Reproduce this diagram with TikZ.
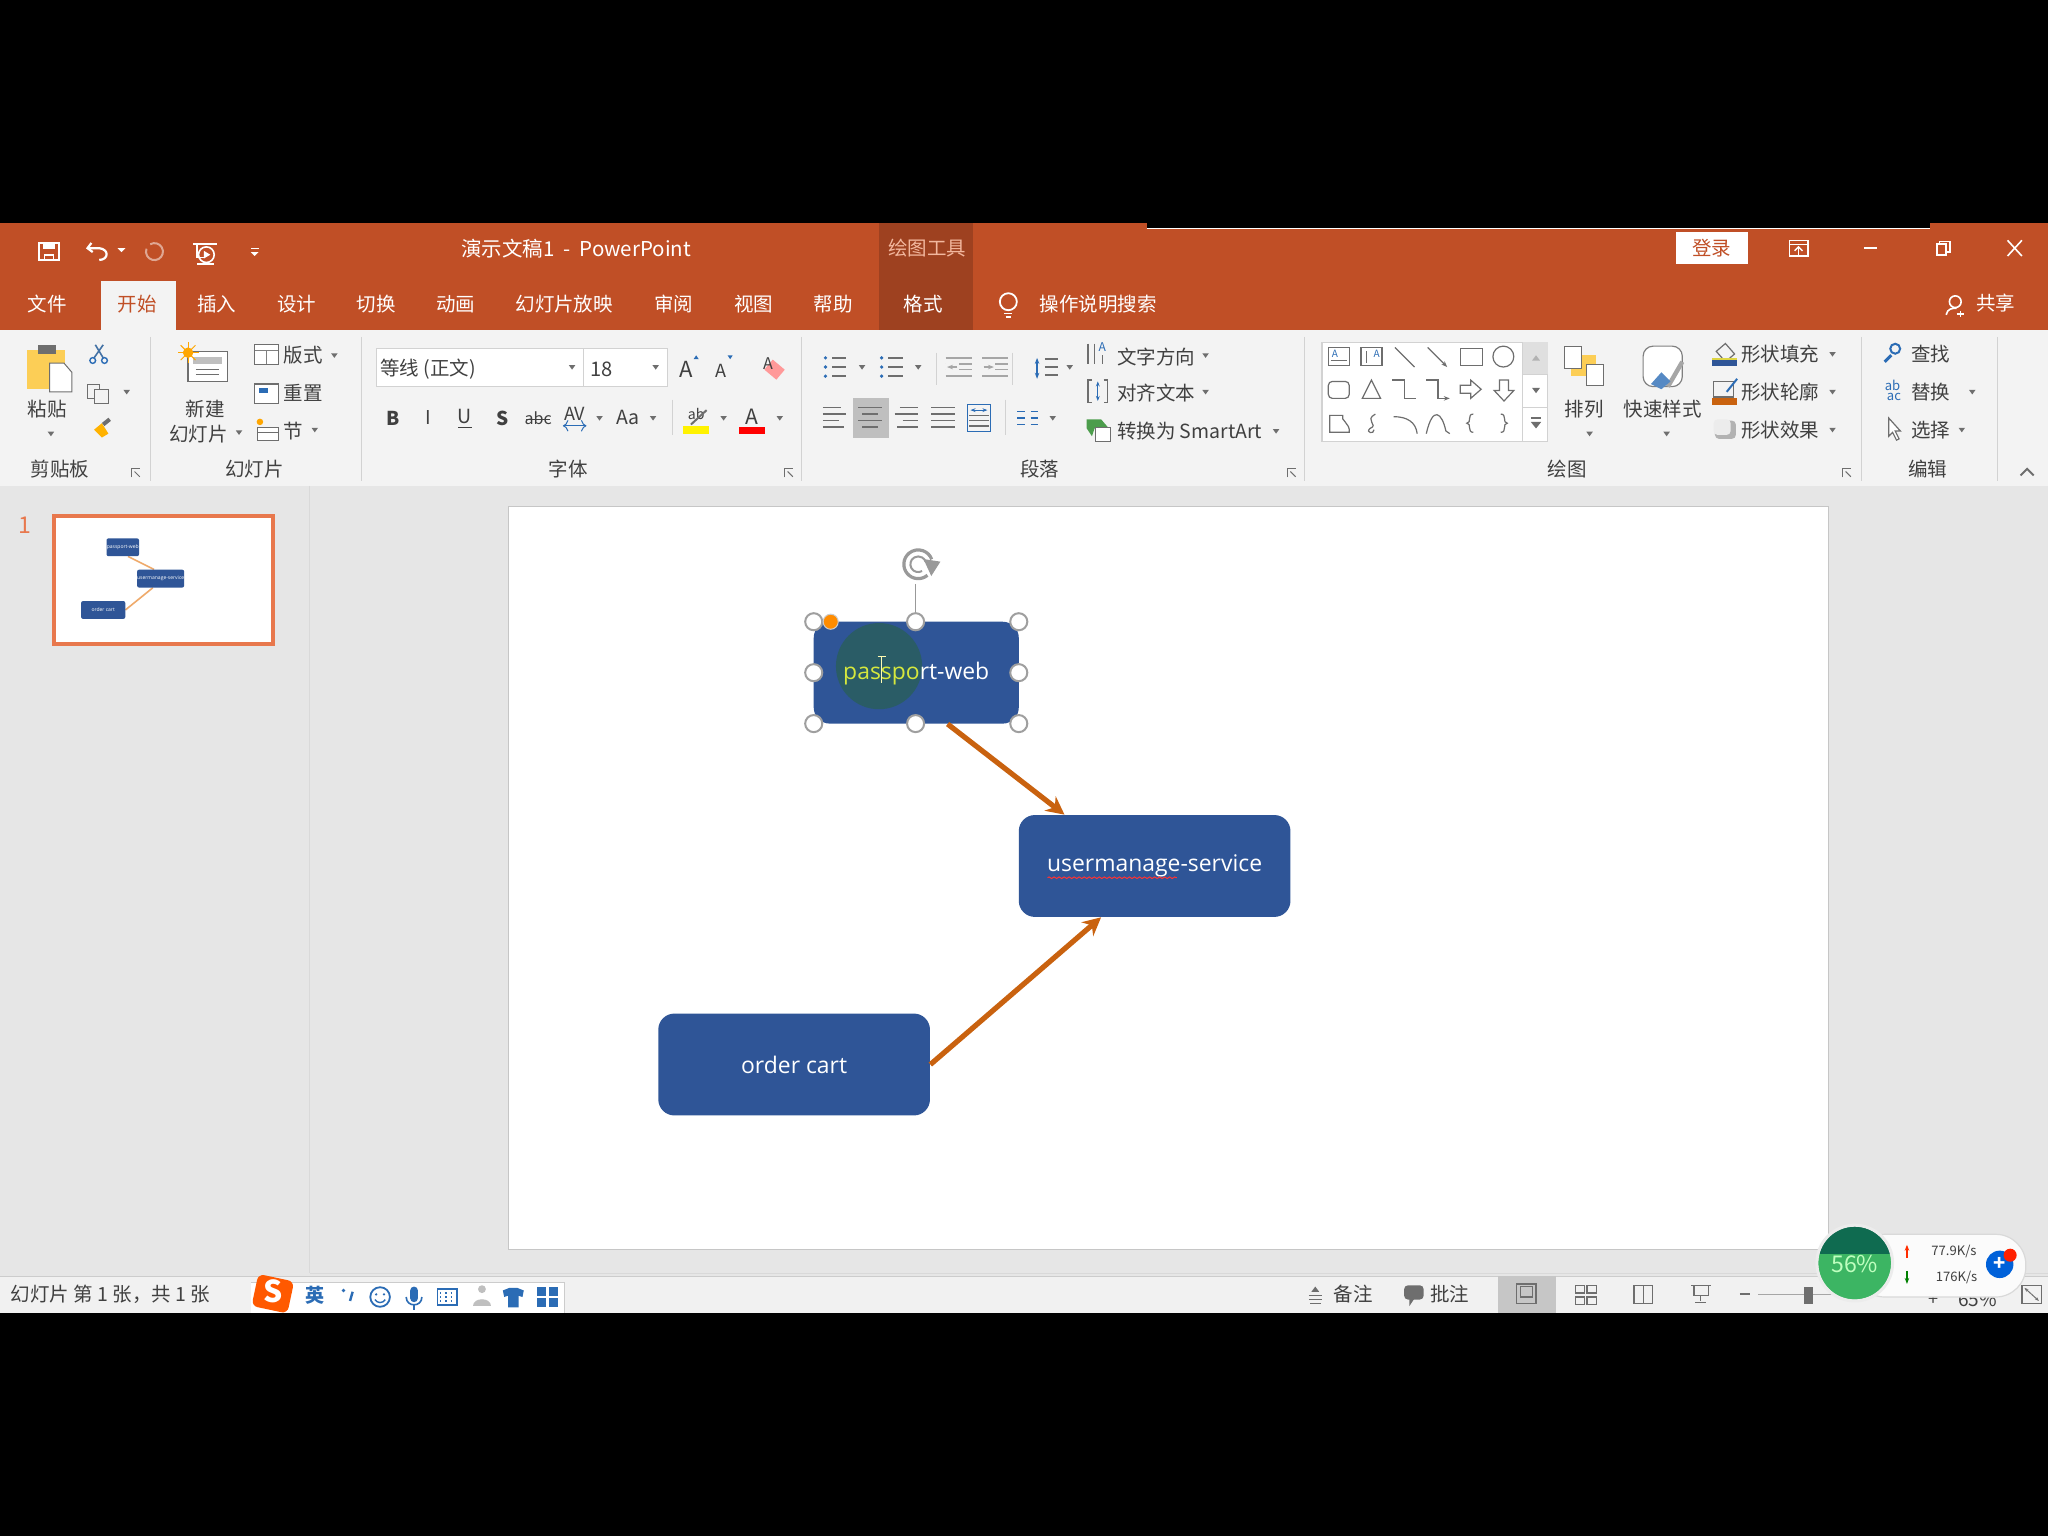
\documentclass[tikz,border=0pt]{standalone}
\usepackage{fontspec}
\setmainfont{Noto Sans CJK SC}
\newfontfamily\latinf{Open Sans}
\usetikzlibrary{arrows.meta,calc,decorations.pathmorphing}
\definecolor{obar}{HTML}{C04F26}
\definecolor{otab}{HTML}{9E4120}
\definecolor{olite}{HTML}{F2B79E}
\definecolor{rib}{HTML}{F3F3F3}
\definecolor{work}{HTML}{E6E6E6}
\definecolor{stat}{HTML}{F1F1F1}
\definecolor{sepc}{HTML}{D2D2D2}
\definecolor{txt}{HTML}{404040}
\definecolor{ico}{HTML}{6E6E6E}
\definecolor{bblue}{HTML}{2F5597}
\definecolor{arrc}{HTML}{C9620F}
\definecolor{uib}{HTML}{2B6CB5}
\definecolor{thumbo}{HTML}{E8784D}
\definecolor{gtop}{HTML}{0F6B50}
\definecolor{gbot}{HTML}{3CB563}
\definecolor{spot}{HTML}{2A5C66}
\newcount\lbn
\newcommand\lb[4][]{\global\advance\lbn by 1\relax\node[lab,#1] (t\the\lbn) at (#2,#3) {#4};}
\newcommand\dd[2]{\fill[ico] (#1-2.5,#2-1.5) -- (#1+2.5,#2-1.5) -- (#1,#2+2) -- cycle;}
\newcommand\launch[2]{\draw[ico,line width=.4pt] (#1-3.5,#2+3.5) -- (#1-3.5,#2-3.5) -- (#1+3.5,#2-3.5); \draw[ico,line width=.5pt] (#1-1,#2-1) -- (#1+3,#2+3);}
\newcommand\lines[4]{\foreach \yy in {-1,0,1}{\draw[#4,line width=.9pt] (#1-#3,#2+\yy*6) -- (#1+#3,#2+\yy*6);}}
\tikzset{
 x=0.65pt,y=-0.65pt,
 lab/.style={inner sep=0pt,text=txt,font=\fontsize{9.7}{10}\selectfont},
 tab/.style={lab,text=white},
 leftl/.style={lab,anchor=west},
 sep/.style={draw=sepc,line width=.5pt},
 iconl/.style={draw=ico,line width=.6pt,fill=none},
 flowbox/.style={draw=none,fill=bblue,rounded corners=8pt,inner sep=0pt,text=white,font=\latinf\fontsize{11.4}{14}\selectfont},
 flow/.style={draw=arrc,line width=2.6pt,-{Stealth[length=9pt,width=9pt]}},
 hnd/.style={circle,draw=gray!75,fill=white,line width=1pt,minimum size=8.5pt,inner sep=0pt},
 tb/.style={fill=bblue,rounded corners=1pt,inner sep=0pt},
 tinyt/.style={text=white,inner sep=0pt,font=\latinf\fontsize{2.5}{3}\selectfont},
}
\begin{document}
\begin{tikzpicture}
\useasboundingbox (0,0) rectangle (1568,1176);
\fill[black] (0,0) rectangle (1568,1176);
% bars
\fill[obar] (0,171) rectangle (1568,253);
\fill[rib] (0,253) rectangle (1568,372);
\fill[work] (0,372) rectangle (1568,977);
\fill[stat] (0,977) rectangle (1568,1005);
\draw[gray!40,line width=.5pt] (0,977) -- (1568,977);
\draw[gray!30,line width=.6pt] (237,372) -- (237,975);
\draw[gray!30,line width=.5pt] (237,975) -- (1568,975);
\fill[otab] (673,171) rectangle (745,253);
\fill[rib] (77,215) rectangle (135,253);
\fill[black] (878,171) rectangle (1478,175.5);
\draw[white,line width=.7pt] (878,174.8) -- (1478,174.8);
% quick access
\draw[white,line width=1.1pt] (30,186) rectangle (45,199); \fill[white] (33,186) rectangle (42,191); \draw[white,line width=.8pt] (34,199) -- (34,195) -- (41,195) -- (41,199);
\draw[white,line width=1.1pt] (70,186) -- (67,190) -- (71,193); \draw[white,line width=1.1pt] (67,190) -- (76,190) .. controls (84,191) and (83,199) .. (76,199);
\fill[white] (90,190) -- (96,190) -- (93,193) -- cycle;
\draw[white!50!obar,line width=1pt] (115,187) arc[start angle=-120,end angle=200,radius=6.5];
\draw[white,line width=.8pt] (148,187) -- (166,187); \draw[white,line width=.8pt] (151,187) -- (151,197) -- (157,197); \draw[white,line width=.8pt] (158,195) circle (6); \fill[white] (156,192) -- (156,198) -- (161,195) -- cycle; \draw[white,line width=.8pt] (151,202) -- (164,202);
\fill[white] (192,190) rectangle (198,191); \fill[white] (192,193) -- (198,193) -- (195,196) -- cycle;
\lb[text=white,font=\fontsize{10.2}{11}\selectfont]{441}{190}{演示文稿1 \ - \ PowerPoint}
\lb[text=olite]{710}{190}{绘图工具}
\node[fill=white,minimum width=35.75pt,minimum height=15.6pt,inner sep=0pt,text=obar,font=\fontsize{9.7}{10}\selectfont] (login) at (1310.5,190) {登录};
\draw[white,line width=.8pt] (1370,184) rectangle (1384,196); \draw[white,line width=.7pt] (1370,187) -- (1384,187); \draw[white,line width=.7pt] (1377,195) -- (1377,189); \draw[white,line width=.7pt] (1374,192) -- (1377,189) -- (1380,192);
\draw[white,line width=.8pt] (1427,190) -- (1437,190);
\draw[white,line width=.8pt] (1483,187) rectangle (1490,195); \draw[white,line width=.8pt] (1485,187) -- (1485,185) -- (1493,185) -- (1493,193) -- (1490,193);
\draw[white,line width=.8pt] (1537,184) -- (1548,196); \draw[white,line width=.8pt] (1548,184) -- (1537,196);
% tabs
\lb[tab]{36}{233}{文件}
\lb[lab,text=obar]{105}{233}{开始}
\lb[tab]{166}{233}{插入}
\lb[tab]{227}{233}{设计}
\lb[tab]{288}{233}{切换}
\lb[tab]{349}{233}{动画}
\lb[tab]{432}{233}{幻灯片放映}
\lb[tab]{516}{233}{审阅}
\lb[tab]{577}{233}{视图}
\lb[tab]{638}{233}{帮助}
\lb[tab]{707}{233}{格式}
\lb[tab]{841}{233}{操作说明搜索}
\lb[tab]{1528}{232}{共享}
\draw[white,line width=.9pt] (772,231) circle (6.5); \draw[white,line width=.9pt] (769,240) -- (775,240); \draw[white,line width=.9pt] (770,243) -- (774,243);
\draw[white,line width=.8pt] (1497,231) circle (4.5); \draw[white,line width=.8pt] (1490,241) .. controls (1491,236) and (1495,236) .. (1498,236); \draw[white,line width=.8pt] (1501,238) -- (1501,243); \draw[white,line width=.8pt] (1498,240.5) -- (1504,240.5);
% group separators
\foreach \sx in {115,277,614,999,1425,1529}{\draw[sep] (\sx,258) -- (\sx,368);}
\draw[sep] (515,306) -- (515,333);
\draw[sep] (775,270) -- (775,295);
\draw[sep] (717,270) -- (717,295);
\draw[sep] (770,306) -- (770,333);
% group labels
\lb{46}{359}{剪贴板}
\lb{195}{359}{幻灯片}
\lb{435}{359}{字体}
\lb{796}{359}{段落}
\lb{1200}{359}{绘图}
\lb{1476}{359}{编辑}
\launch{104}{362}\launch{604}{362}\launch{989}{362}\launch{1414}{362}
\draw[ico,line width=1pt] (1547,364) -- (1552,359) -- (1557,364);
% clipboard
\fill[yellow!45!orange!65!white] (21,268) rectangle (50,298);
\fill[ico] (29,264) rectangle (43,271);
\draw[ico,fill=white,line width=.5pt] (38,278) -- (49,278) -- (55,285) -- (55,300) -- (38,300) -- cycle;
\lb{36}{313}{粘贴}\dd{39}{332}
\draw[uib!70!gray,line width=.8pt] (73,264) -- (79,274); \draw[uib!70!gray,line width=.8pt] (79,264) -- (72,274); \draw[uib,line width=.7pt] (71,276) circle (2.2); \draw[uib,line width=.7pt] (80,276) circle (2.2);
\draw[ico,line width=.5pt,fill=rib] (67,294) rectangle (76,305); \draw[ico,line width=.5pt,fill=rib] (72,298) rectangle (83,309);\dd{97}{300}
\fill[orange!60!yellow] (72,329) -- (78,324) -- (83,332) -- (78,335) -- cycle; \draw[ico,line width=2pt] (79,325) -- (84,321);
% slides
\draw[ico,fill=white,line width=.6pt] (144,269) rectangle (174,292); \fill[gray!50] (148,273) rectangle (170,279); \draw[ico,line width=.4pt] (150,283) -- (168,283); \draw[ico,line width=.4pt] (150,287) -- (168,287);
\fill[orange!70!yellow] (144,270) circle (4); \foreach \a in {0,45,...,315}{\draw[orange!70!yellow,line width=.5pt] (144,270) -- ++(\a:8);}
\lb{157}{313}{新建}\lb{152}{332}{幻灯片}\dd{183}{331}
\draw[ico,fill=white,line width=.6pt] (195,264) rectangle (213,279); \draw[gray,line width=.5pt] (195,268) -- (213,268); \draw[gray,line width=.5pt] (204,268) -- (204,279);
\lb[leftl]{217}{272}{版式}\dd{256}{272}
\draw[ico,fill=white,line width=.6pt] (195,294) rectangle (213,309); \fill[uib] (198,297) rectangle (205,301);
\lb[leftl]{217}{301}{重置}
\draw[ico,fill=white,line width=.6pt] (197,327) rectangle (213,337); \draw[ico,line width=.5pt] (197,331) -- (213,331); \fill[orange!70!yellow] (199,323) circle (2.5);
\lb[leftl]{217}{330}{节}\dd{241}{329}
% font
\draw[draw=sepc,fill=white,line width=.6pt] (288,267) rectangle (511,296); \draw[sepc,line width=.6pt] (447,267) -- (447,296);
\lb[leftl]{291}{283}{等线 (正文)}\dd{438}{281}
\lb[leftl,font=\fontsize{10}{11}\selectfont]{452}{283}{18}\dd{502}{281}
\lb[font=\fontsize{11}{12}\selectfont]{525}{283}{A}\fill[uib] (531,275) -- (535,275) -- (533,272) -- cycle;
\lb[font=\fontsize{9}{10}\selectfont]{552}{284}{A}\fill[uib] (557,272) -- (561,272) -- (559,275) -- cycle;
\fill[red!40!white,rotate around={-40:(593,283)}] (587,278) rectangle (599,288); \lb[font=\fontsize{8}{9}\selectfont]{588}{278}{A}
\lb[font=\bfseries\fontsize{9.5}{10}\selectfont]{301}{320}{B}
\lb[font=\itshape\fontsize{9.5}{10}\selectfont]{328}{320}{I}
\lb{356}{319}{U}\draw[txt,line width=.5pt] (351,327) -- (361,327);
\lb[font=\bfseries\fontsize{9.5}{10}\selectfont]{385}{320}{S}
\lb[font=\fontsize{8}{9}\selectfont]{412}{320}{abc}\draw[txt,line width=.4pt] (403,321) -- (421,321);
\lb[font=\fontsize{9}{10}\selectfont]{440}{317}{AV}\draw[uib,<->,line width=.5pt] (431,326) -- (449,326);\dd{459}{320}
\lb{481}{320}{Aa}\dd{500}{320}
\lb[font=\fontsize{7}{8}\selectfont]{533}{317}{ab}\fill[yellow] (523,326) rectangle (543,332); \draw[ico,line width=1pt] (529,325) -- (541,314);\dd{554}{320}
\lb[font=\fontsize{10.5}{11}\selectfont]{576}{319}{A}\fill[red] (566,327) rectangle (586,332);\dd{597}{320}
% paragraph
\foreach \yy in {274,281,288}{\fill[uib] (632,\yy) circle (1.4); \draw[ico,line width=.8pt] (637,\yy) -- (648,\yy); \fill[uib] (675,\yy) circle (1.4); \draw[ico,line width=.8pt] (680,\yy) -- (691,\yy);}
\dd{660}{281}\dd{703}{281}
\foreach \ix in {734,762}{\foreach \yy in {274,278.5,283,288}{\draw[gray!70,line width=.8pt] (\ix-10,\yy) -- (\ix+10,\yy);}}
\fill[rib] (724,277) rectangle (734,285); \fill[rib] (752,277) rectangle (762,285);
\draw[gray!70,line width=.7pt,-{Stealth[length=3pt]}] (733,281) -- (725,281); \draw[gray!70,line width=.7pt,-{Stealth[length=3pt]}] (753,281) -- (761,281);
\draw[uib,line width=.7pt,{Stealth[length=3pt]}-{Stealth[length=3pt]}] (794,274) -- (794,290); \lines{805}{281}{5}{ico}\dd{819}{281}
\fill[gray!50] (653,305) rectangle (681,335);
\foreach \yy/\a/\b in {312/-9/5,317/-9/9,322/-9/3,327/-9/7}{\draw[ico,line width=.8pt] (639+\a,\yy) -- (639+\b,\yy);}
\foreach \yy/\w in {312/9,317/6,322/9,327/6}{\draw[ico,line width=.8pt] (666-\w,\yy) -- (666+\w,\yy);}
\foreach \yy/\a/\b in {312/-5/9,317/-9/9,322/-3/9,327/-7/9}{\draw[ico,line width=.8pt] (694+\a,\yy) -- (694+\b,\yy);}
\foreach \yy in {312,317,322,327}{\draw[ico,line width=.8pt] (713,\yy) -- (731,\yy);}
\draw[uib,line width=.5pt] (741,310) rectangle (758,330);\foreach \yy in {318,322,326}{\draw[ico,line width=.8pt] (742,\yy) -- (757,\yy);}\draw[uib,line width=.5pt,{Stealth[length=2.5pt]}-{Stealth[length=2.5pt]}] (743,314) -- (756,314);
\foreach \yy in {315,320,325}{\draw[uib,line width=.8pt] (779,\yy) -- (785,\yy);\draw[uib,line width=.8pt] (789,\yy) -- (795,\yy);}\dd{806}{320}
\draw[ico,line width=.7pt] (833,263) -- (833,279); \draw[ico,line width=.7pt] (838,263) -- (838,279); \lb[text=uib,font=\fontsize{6}{7}\selectfont]{844}{266}{A}\draw[ico,line width=.7pt] (844,272) -- (844,279);
\lb[leftl]{855}{273}{文字方向}\dd{923}{272}
\draw[ico,line width=.6pt] (836,291) -- (833,291) -- (833,308) -- (836,308); \draw[ico,line width=.6pt] (845,291) -- (848,291) -- (848,308) -- (845,308);\draw[uib,line width=.6pt,{Stealth[length=2.5pt]}-{Stealth[length=2.5pt]}] (840.5,292) -- (840.5,307);
\lb[leftl]{855}{301}{对齐文本}\dd{923}{300}
\fill[green!45!black!70] (832,321) -- (843,321) -- (849,328) -- (838,328) -- (836,334) -- (832,328)-- cycle; \draw[ico,fill=white,line width=.5pt] (839,327) rectangle (850,338);
\lb[leftl]{855}{330}{转换为 SmartArt}\dd{977}{330}
% gallery
\draw[draw=sepc,fill=white,line width=.7pt] (1012,262) rectangle (1185,338);
\fill[gray!25] (1166,262) rectangle (1185,287);
\draw[sepc,line width=.5pt] (1166,262) -- (1166,338); \draw[sepc,line width=.5pt] (1166,287) -- (1185,287); \draw[sepc,line width=.5pt] (1166,312) -- (1185,312);
\fill[gray!60] (1173,276) -- (1179,276) -- (1176,272) -- cycle; \fill[ico] (1173,297) -- (1179,297) -- (1176,301) -- cycle;
\draw[ico,line width=.6pt] (1172,320) -- (1180,320); \fill[ico] (1172,323) -- (1180,323) -- (1176,328) -- cycle;
\draw[iconl] (1017,266) rectangle (1033,280); \lb[text=uib,font=\fontsize{5}{6}\selectfont]{1022}{271}{A}\draw[ico,line width=.4pt] (1019,276) -- (1031,276);
\draw[iconl] (1042,266) rectangle (1058,280); \lb[text=uib,font=\fontsize{5}{6}\selectfont]{1054}{271}{A}\draw[ico,line width=.4pt] (1046,269) -- (1046,278);
\draw[iconl] (1068,266) -- (1083,281);
\draw[iconl,-{Stealth[length=3pt]}] (1093,266) -- (1108,281);
\draw[iconl] (1118,267) rectangle (1135,280);
\draw[iconl] (1151,273) circle (8);
\draw[iconl,rounded corners=2pt] (1017,292) rectangle (1033,305);
\draw[iconl] (1050,291) -- (1057,305) -- (1043,305) -- cycle;
\draw[iconl] (1066,291) -- (1075,291) -- (1075,305) -- (1084,305);
\draw[iconl,-{Stealth[length=3pt]}] (1092,291) -- (1101,291) -- (1101,305) -- (1110,305);
\draw[iconl] (1118,295) -- (1126,295) -- (1126,291) -- (1134,298) -- (1126,305) -- (1126,301) -- (1118,301) -- cycle;
\draw[iconl] (1148,291) -- (1155,291) -- (1155,299) -- (1159,299) -- (1151.5,307) -- (1144,299) -- (1148,299) -- cycle;
\draw[iconl] (1018,318) -- (1028,318) .. controls (1026,322) and (1034,324) .. (1033,331) -- (1018,331) -- cycle;
\draw[iconl] (1053,317) .. controls (1044,322) and (1056,325) .. (1049,328) .. controls (1045,331) and (1052,333) .. (1052,329);
\draw[iconl] (1067,319) .. controls (1077,319) and (1084,323) .. (1085,332);
\draw[iconl] (1092,332) .. controls (1097,310) and (1104,316) .. (1107,330) -- (1110,332);
\draw[iconl] (1128,317) .. controls (1123,317) and (1127,324) .. (1123,324) .. controls (1127,324) and (1123,331) .. (1128,331);
\draw[iconl] (1149,317) .. controls (1154,317) and (1150,324) .. (1154,324) .. controls (1150,324) and (1154,331) .. (1149,331);
% arrange / styles
\fill[yellow!45!orange!65!white] (1203,272) rectangle (1222,288);
\draw[ico,fill=white,line width=.5pt] (1198,265) rectangle (1211,282); \draw[ico,fill=white,line width=.5pt] (1215,279) rectangle (1228,295);
\lb{1213}{313}{排列}\dd{1217}{332}
\draw[gray,fill=white,line width=.6pt,rounded corners=5pt] (1258,265) rectangle (1288,296);
\draw[gray!70,line width=2.2pt] (1277,296) -- (1288,277); \fill[uib!80] (1264,294) -- (1272,285) -- (1279,292) -- (1272,298) -- cycle;
\lb{1273}{313}{快速样式}\dd{1276}{332}
\draw[iconl] (1314,269) -- (1321,263) -- (1328,271) -- (1321,277) -- cycle; \fill[bblue] (1311,275) rectangle (1330,280); \fill[yellow!70!gray] (1311,274) rectangle (1330,275.5);
\lb[leftl]{1333}{271}{形状填充}\dd{1403}{271}
\draw[iconl] (1312,292) rectangle (1327,304); \draw[uib,line width=1pt] (1322,300) -- (1330,290); \fill[arrc] (1311,305) rectangle (1330,310);
\lb[leftl]{1333}{300}{形状轮廓}\dd{1403}{300}
\fill[gray!60,rounded corners=2pt] (1313,322) rectangle (1329,336); \fill[gray!15,rounded corners=2pt] (1312,321) rectangle (1325,333);
\lb[leftl]{1333}{329}{形状效果}\dd{1403}{329}
\draw[uib,line width=1pt] (1451,267) circle (3.8); \draw[uib,line width=1.5pt] (1448,272) -- (1443,277);
\lb[leftl]{1463}{271}{查找}
\lb[text=uib,font=\fontsize{6.5}{7}\selectfont]{1449}{295}{ab}\lb[text=uib,font=\fontsize{6.5}{7}\selectfont]{1450}{304}{ac}
\lb[leftl]{1463}{300}{替换}\dd{1510}{300}
\draw[ico,line width=.6pt,fill=white] (1446,320) -- (1446,334) -- (1449,331) -- (1452,337) -- (1454,336) -- (1451,330) -- (1455,330) -- cycle;
\lb[leftl]{1463}{329}{选择}\dd{1502}{329}
% thumbnail
\lb[text=thumbo,font=\fontsize{11.5}{12}\selectfont]{19}{402}{1}
\draw[draw=thumbo,fill=white,line width=2pt] (41,395) rectangle (209,493);
\draw[arrc!50!orange!60!white,line width=.8pt] (98,426) -- (118,436);
\draw[arrc!50!orange!60!white,line width=.8pt] (96,467) -- (117,450);
\node[tb,minimum width=16.2pt,minimum height=8.9pt,tinyt] (mpw) at (94,419) {passport-web};
\node[tb,minimum width=22pt,minimum height=8.9pt,tinyt] (mum) at (123,443) {usermanage-service};
\node[tb,minimum width=22pt,minimum height=8.9pt,tinyt] (moc) at (79,467) {order cart};
% slide
\draw[draw=gray!45,fill=white,line width=.5pt] (389,388) rectangle (1400,957);
\node[flowbox,minimum width=157*0.65pt,minimum height=78*0.65pt] (pw) at (701.5,515) {\phantom{passport-web}};
\fill[spot] (673,510) circle (33);
\node[inner sep=0pt,font=\latinf\fontsize{11.4}{14}\selectfont,text=white] (pwt) at (701.5,516) {\textcolor{yellow!80!green!80!white}{passpo}rt-web};
\draw[white!70!yellow,line width=.5pt] (672,503) -- (678,503); \draw[white!70!yellow,line width=.5pt] (675,503) -- (675,523);
\node[flowbox,minimum width=208*0.65pt,minimum height=78*0.65pt] (um) at (884,663) {\raisebox{-.9pt}{usermanage-service}};
\node[flowbox,minimum width=208*0.65pt,minimum height=78*0.65pt] (oc) at (608,815) {order cart};
\draw[red!80!white,line width=.5pt,decorate,decoration={snake,amplitude=.4pt,segment length=2.5pt}] (802,672) -- (901,672);
\draw[flow] ($(pw.south)+(24,0)$) -- ($(um.north)+(-69,0)$);
\draw[flow] (oc.east) -- ($(um.south)+(-41,0)$);
% selection
\draw[gray!80,line width=.8pt] (701,447) -- (701,476);
\draw[gray!80,line width=1.6pt] (703,432) ++(50:11) arc[start angle=50,end angle=340,radius=11];
\draw[gray!80,line width=1pt] (703,432) ++(60:6) arc[start angle=60,end angle=340,radius=6];
\fill[gray!80] (707,428) -- (720,430) -- (713,441) -- cycle;
\foreach \hx/\hy/\hn in {623/476/a,701/476/b,780/476/c,623/515/d,780/515/e,623/554/f,701/554/g,780/554/h}{\node[hnd] (h\hn) at (\hx,\hy) {};}
\node[circle,fill=orange!90!yellow,draw=gray!40,line width=.5pt,minimum size=7.5pt,inner sep=0pt] (hy) at (636,476) {};
% status bar
\lb[leftl]{8}{991}{幻灯片 第 1 张，共 1 张}
\fill[white] (192,982) rectangle (432,1005); \draw[gray!40,line width=.4pt] (192,982) -- (432,982) -- (432,1005);
\fill[orange!70!red,rounded corners=3pt,rotate around={-12:(209,990)}] (195,978) rectangle (223,1003);
\lb[text=white,font=\bfseries\fontsize{15}{16}\selectfont]{209}{989}{S}
\lb[text=uib,font=\bfseries\fontsize{9.5}{10}\selectfont]{241}{992}{英}
\fill[uib] (263,988) circle (1.5); \draw[uib,line width=1.2pt] (270,989) -- (268,996);
\draw[uib,line width=.9pt] (291,993) circle (7.5); \fill[uib] (288,991) circle (1); \fill[uib] (294,991) circle (1); \draw[uib,line width=.7pt] (287,995) .. controls (289,998) and (293,998) .. (295,995);
\fill[uib,rounded corners=2pt] (314,985) rectangle (320,997); \draw[uib,line width=.8pt] (311,993) .. controls (311,1001) and (323,1001) .. (323,993); \draw[uib,line width=.8pt] (317,999) -- (317,1003);
\draw[uib,line width=.9pt] (335,987) rectangle (350,999); \foreach \yy in {990,993,996}{\draw[uib,line width=.6pt,dotted] (337,\yy) -- (348,\yy);}
\fill[gray!50] (369,987) circle (3); \fill[gray!50] (362,1000) .. controls (362,993) and (376,993) .. (376,1000) -- cycle;
\fill[uib] (385,988) -- (390,986) -- (396,986) -- (401,988) -- (400,993) -- (397,992) -- (397,1001) -- (389,1001) -- (389,992) -- (386,993) -- cycle;
\foreach \ix/\iy in {411/985,420/985,411/994,420/994}{\fill[uib] (\ix,\iy) rectangle ++(7,7);}
% status right
\draw[ico,line width=.6pt] (1002,992) -- (1012,992); \draw[ico,line width=.6pt] (1002,995) -- (1012,995); \draw[ico,line width=.6pt] (1003,998) -- (1011,998); \fill[ico] (1004,989) -- (1010,989) -- (1007,985) -- cycle;
\lb{1036}{991}{备注}
\fill[ico,rounded corners=2pt] (1075,984) rectangle (1090,995); \fill[ico] (1079,994) -- (1083,994) -- (1079,1000) -- cycle;
\lb{1110}{991}{批注}
\fill[gray!45] (1147,977) rectangle (1191,1005);
\draw[iconl] (1161,983) rectangle (1176,998); \draw[iconl] (1164,985) rectangle (1173,993);
\foreach \ix/\iy in {1206/984,1215/984,1206/993,1215/993}{\draw[iconl] (\ix,\iy) rectangle ++(7,6);}
\draw[iconl] (1251,984) rectangle (1265,998); \draw[iconl] (1258,984) -- (1258,998);
\draw[iconl] (1295,984) -- (1310,984); \draw[iconl] (1297,984) -- (1297,992) -- (1308,992) -- (1308,984); \draw[iconl] (1302,992) -- (1302,996); \draw[iconl] (1298,997) -- (1306,997);
\draw[ico,line width=1pt] (1332,991) -- (1340,991);
\draw[gray!70,line width=.5pt] (1346,991) -- (1420,991);
\fill[ico] (1381,985) rectangle (1388,998);
\lb[font=\fontsize{9.5}{10}\selectfont]{1514}{995}{65\%}
\lb[font=\fontsize{9}{10}\selectfont]{1480}{995}{+}
\draw[iconl] (1548,984) rectangle (1563,998);
\draw[ico,line width=.5pt,-{Stealth[length=2pt]}] (1555.5,991) -- (1550,986); \draw[ico,line width=.5pt,-{Stealth[length=2pt]}] (1555.5,991) -- (1561,996);
% net widget
\draw[gray!30,fill=white!97!gray,line width=.6pt,rounded corners=15pt] (1420,945) rectangle (1551,993);
\begin{scope}
\clip (1420,967) circle (28);
\fill[gtop] (1390,935) rectangle (1450,960);
\fill[gbot] (1390,960) rectangle (1450,1000);
\end{scope}
\draw[gray!15,line width=1.5pt] (1420,967) circle (29);
\lb[text=white!75!green,font=\fontsize{11.5}{12}\selectfont]{1420}{968}{56\%}
\draw[red!65!orange,line width=1pt,-{Stealth[length=3pt]}] (1460,963) -- (1460,953);
\draw[green!50!black,line width=1pt,-{Stealth[length=3pt]}] (1460,973) -- (1460,983);
\lb[font=\fontsize{6.5}{7}\selectfont]{1496}{958}{77.9K/s}
\lb[font=\fontsize{6.5}{7}\selectfont]{1498}{978}{176K/s}
\fill[blue!55!cyan!85!black] (1531,968) circle (10.5);
\lb[text=white,font=\bfseries\fontsize{10}{10}\selectfont]{1531}{968}{+}
\fill[red!75!orange] (1539,961) circle (5);
\fill[black] (0,1005) rectangle (1568,1176);
\end{tikzpicture}
\end{document}
